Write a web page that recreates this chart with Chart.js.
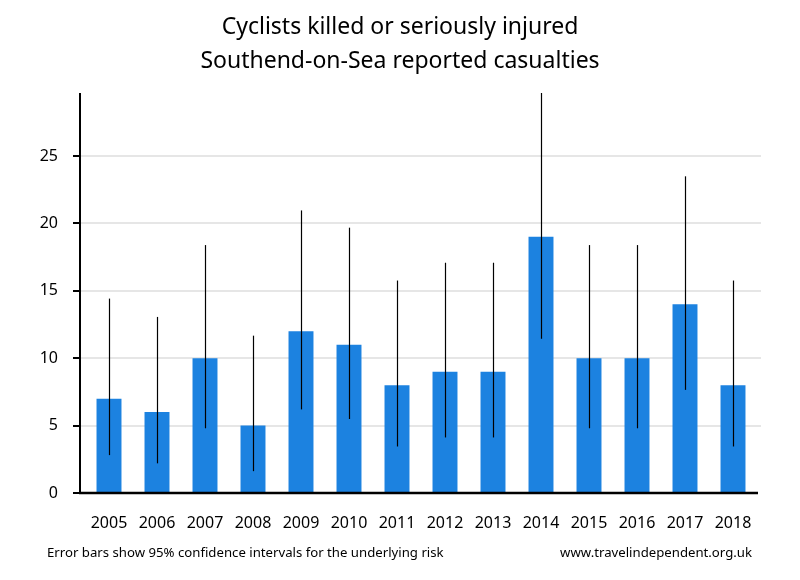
<!DOCTYPE html>
<html>
<head>
<meta charset="utf-8">
<script src="https://cdn.jsdelivr.net/npm/chart.js@4.4.0/dist/chart.umd.min.js"></script>
<style>
  html, body { margin: 0; padding: 0; background: #fff; }
  #wrap { width: 800px; height: 580px; position: relative; }
</style>
</head>
<body>
<div id="wrap"><canvas id="c" width="800" height="580"></canvas></div>
<script>
const years = ['2005','2006','2007','2008','2009','2010','2011','2012','2013','2014','2015','2016','2017','2018'];
const casualties = [7, 6, 10, 5, 12, 11, 8, 9, 9, 19, 10, 10, 14, 8];
const ciLower = [2.81, 2.20, 4.80, 1.62, 6.20, 5.49, 3.45, 4.12, 4.12, 11.44, 4.80, 4.80, 7.65, 3.45];
const ciUpper = [14.42, 13.06, 18.39, 11.67, 20.96, 19.68, 15.76, 17.08, 17.08, 29.67, 18.39, 18.39, 23.49, 15.76];
const yTicks = [0, 5, 10, 15, 20, 25];
const yMax = 29.67;
const titleLines = ['Cyclists killed or seriously injured', 'Southend-on-Sea reported casualties'];
const footLeft = 'Error bars show 95% confidence intervals for the underlying risk';
const footRight = 'www.travelindependent.org.uk';

const FONT = '"Noto Sans", "Open Sans", sans-serif';

const drawPlugin = {
  id: 'custom',
  beforeDatasetsDraw(chart) {
    const ctx = chart.ctx, y = chart.scales.y;
    ctx.save();
    ctx.strokeStyle = '#e6e6e6';
    ctx.lineWidth = 2;
    yTicks.forEach(v => {
      if (v === 0) return;
      const py = Math.round(y.getPixelForValue(v));
      ctx.beginPath();
      ctx.moveTo(80, py);
      ctx.lineTo(761, py);
      ctx.stroke();
    });
    ctx.restore();
  },
  afterDatasetsDraw(chart) {
    const ctx = chart.ctx, y = chart.scales.y, a = chart.chartArea;
    const meta = chart.getDatasetMeta(0);
    ctx.save();
    ctx.strokeStyle = '#000';
    ctx.lineWidth = 1.2;
    meta.data.forEach((bar, i) => {
      const x = Math.round(bar.x) + 0.5;
      ctx.beginPath();
      ctx.moveTo(x, y.getPixelForValue(ciUpper[i]));
      ctx.lineTo(x, y.getPixelForValue(ciLower[i]));
      ctx.stroke();
    });
    const y0 = y.getPixelForValue(0);
    ctx.lineWidth = 2;
    ctx.beginPath();
    ctx.moveTo(80, a.top);
    ctx.lineTo(80, y0 + 1);
    ctx.stroke();
    ctx.lineWidth = 2.5;
    ctx.beginPath();
    ctx.moveTo(79, y0);
    ctx.lineTo(758, y0);
    ctx.stroke();
    ctx.lineWidth = 2;
    yTicks.forEach(v => {
      const py = Math.round(y.getPixelForValue(v));
      ctx.beginPath();
      ctx.moveTo(73, py);
      ctx.lineTo(80, py);
      ctx.stroke();
    });
    ctx.fillStyle = '#000';
    ctx.textBaseline = 'middle';
    ctx.textAlign = 'center';
    ctx.font = '23px ' + FONT;
    ctx.fillText(titleLines[0], 400, 27);
    ctx.fillText(titleLines[1], 400, 61);
    ctx.font = '13.2px ' + FONT;
    ctx.textAlign = 'left';
    ctx.fillText(footLeft, 47, 553);
    ctx.textAlign = 'right';
    ctx.fillText(footRight, 752, 553);
    ctx.restore();
  }
};

new Chart(document.getElementById('c'), {
  type: 'bar',
  data: {
    labels: years,
    datasets: [{
      data: casualties,
      backgroundColor: 'rgb(28,130,224)',
      borderWidth: 0,
      categoryPercentage: 1,
      barPercentage: 0.52
    }]
  },
  options: {
    responsive: false,
    animation: false,
    layout: { padding: { left: 0, right: 43, top: 93, bottom: 0 } },
    plugins: {
      legend: { display: false },
      tooltip: { enabled: false },
      title: { display: false }
    },
    scales: {
      x: {
        grid: { display: false },
        border: { display: false },
        ticks: { color: '#000', font: { family: FONT, size: 16 }, padding: 13, maxRotation: 0 },
        afterFit(s) { s.height = 87; }
      },
      y: {
        min: 0,
        max: yMax,
        grid: { display: false },
        border: { display: false },
        ticks: { color: '#000', font: { family: FONT, size: 16 }, padding: 19 },
        afterBuildTicks(s) { s.ticks = yTicks.map(v => ({ value: v })); },
        afterFit(s) { s.width = 85; }
      }
    }
  },
  plugins: [drawPlugin]
});
</script>
</body>
</html>
